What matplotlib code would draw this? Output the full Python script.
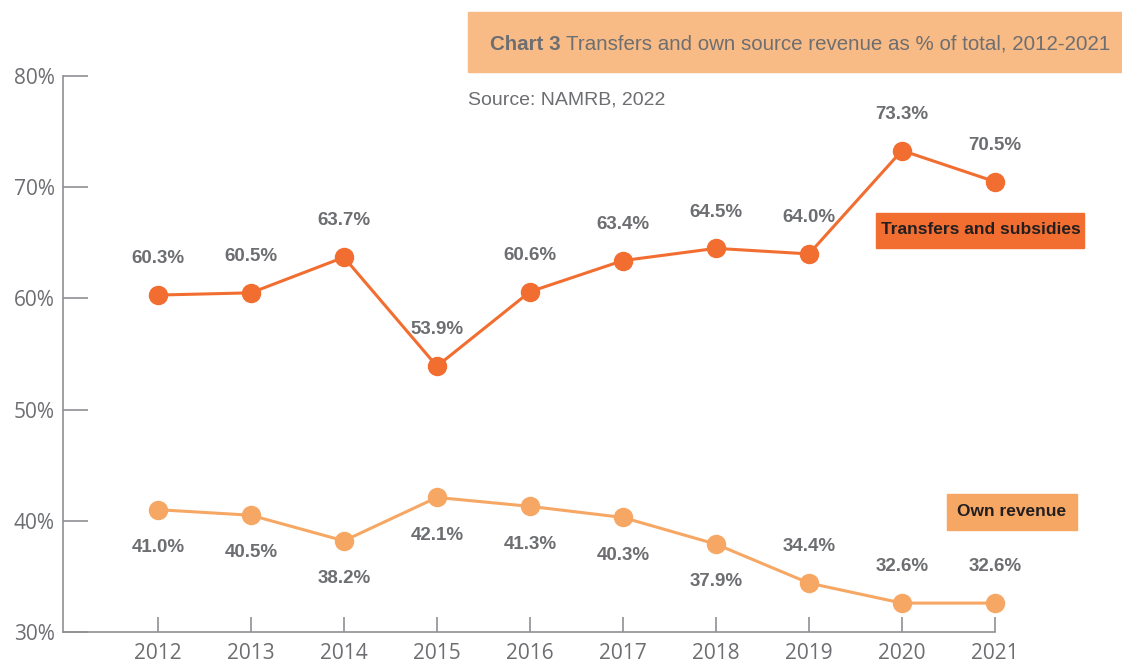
import matplotlib
matplotlib.use("Agg")
import matplotlib.pyplot as plt
from matplotlib.patches import Rectangle

# datos del grafico
anios = [2012, 2013, 2014, 2015, 2016, 2017, 2018, 2019, 2020, 2021]
transferencias = [60.3, 60.5, 63.7, 53.9, 60.6, 63.4, 64.5, 64.0, 73.3, 70.5]
ingresos_propios = [41.0, 40.5, 38.2, 42.1, 41.3, 40.3, 37.9, 34.4, 32.6, 32.6]
# etiqueta arriba (1) o abajo (-1)
pos_propios = [-1, -1, -1, -1, -1, -1, -1, 1, 1, 1]
y_ticks = [30, 40, 50, 60, 70, 80]

c_trans = "#f26d30"
c_prop = "#f7a764"
gris = "#6d6e71"
eje = "#8f9093"
fuente_n = ["Liberation Sans", "DejaVu Sans"]
fuente = ["Open Sans", "DejaVu Sans"]

fig = plt.figure(figsize=(11.22, 6.64), dpi=100)
ax = fig.add_axes([63 / 1122, 1 - 632 / 664, (995 - 63) / 1122, (632 - 76) / 664])

ax.plot(anios, transferencias, color=c_trans, lw=2.2, marker="o", ms=13, zorder=3, clip_on=False)
ax.plot(anios, ingresos_propios, color=c_prop, lw=2.2, marker="o", ms=13, zorder=3, clip_on=False)

for x, y in zip(anios, transferencias):
    ax.annotate(f"{y:.1f}%", (x, y), xytext=(0, 20), textcoords="offset points",
                ha="center", va="bottom", fontsize=13.5, fontweight="bold",
                color=gris, family=fuente_n)
for x, y, p in zip(anios, ingresos_propios, pos_propios):
    ax.annotate(f"{y:.1f}%", (x, y), xytext=(0, 21 * p if p < 0 else 20), textcoords="offset points",
                ha="center", va="bottom" if p > 0 else "top", fontsize=13.5,
                fontweight="bold", color=gris, family=fuente_n)

ax.set_xlim(2010.98, 2021)
ax.set_ylim(30, 80)
ax.set_xticks(anios)
ax.set_yticks(y_ticks)
ax.set_yticklabels([f"{v}%" for v in y_ticks])
for s in ["top", "right"]:
    ax.spines[s].set_visible(False)
for s in ["left", "bottom"]:
    ax.spines[s].set_color(eje)
    ax.spines[s].set_linewidth(1.2)
ax.tick_params(axis="y", direction="in", length=18, width=1.2, color=eje,
               labelsize=15, labelcolor=gris, pad=6)
ax.tick_params(axis="x", direction="in", length=11, width=1.2, color=eje,
               labelsize=15, labelcolor=gris, pad=8)
for t in ax.get_xticklabels() + ax.get_yticklabels():
    t.set_family(fuente)

# caja del titulo
fig.patches.append(Rectangle((468 / 1122, 1 - 72 / 664), (1122 - 468) / 1122, 60 / 664,
                             transform=fig.transFigure, color="#f9bb85", zorder=0))
t1 = fig.text(490 / 1122, 1 - 44 / 664, "Chart 3", fontsize=14.8, fontweight="bold",
              color=gris, family=fuente_n, va="center")
fig.canvas.draw()
r = fig.canvas.get_renderer()
bb = t1.get_window_extent(r)
fig.text((bb.x1 + 5) / 1122, 1 - 44 / 664,
         "Transfers and own source revenue as % of total, 2012-2021",
         fontsize=14.8, color=gris, family=fuente_n, va="center")
fig.text(468 / 1122, 1 - 100 / 664, "Source: NAMRB, 2022", fontsize=14,
         color=gris, family=fuente_n, va="center")

# etiquetas de series
fig.patches.append(Rectangle((876 / 1122, 1 - 248 / 664), 208 / 1122, 35 / 664,
                             transform=fig.transFigure, color=c_trans, zorder=0))
fig.text(981 / 1122, 1 - 230 / 664, "Transfers and subsidies", fontsize=12.5,
         fontweight="bold", color="#231f20", family=fuente_n, ha="center", va="center")
fig.patches.append(Rectangle((947 / 1122, 1 - 530 / 664), 130 / 1122, 36 / 664,
                             transform=fig.transFigure, color=c_prop, zorder=0))
fig.text(1012 / 1122, 1 - 512 / 664, "Own revenue", fontsize=12.5,
         fontweight="bold", color="#231f20", family=fuente_n, ha="center", va="center")

fig.savefig("out.png", dpi=100)
